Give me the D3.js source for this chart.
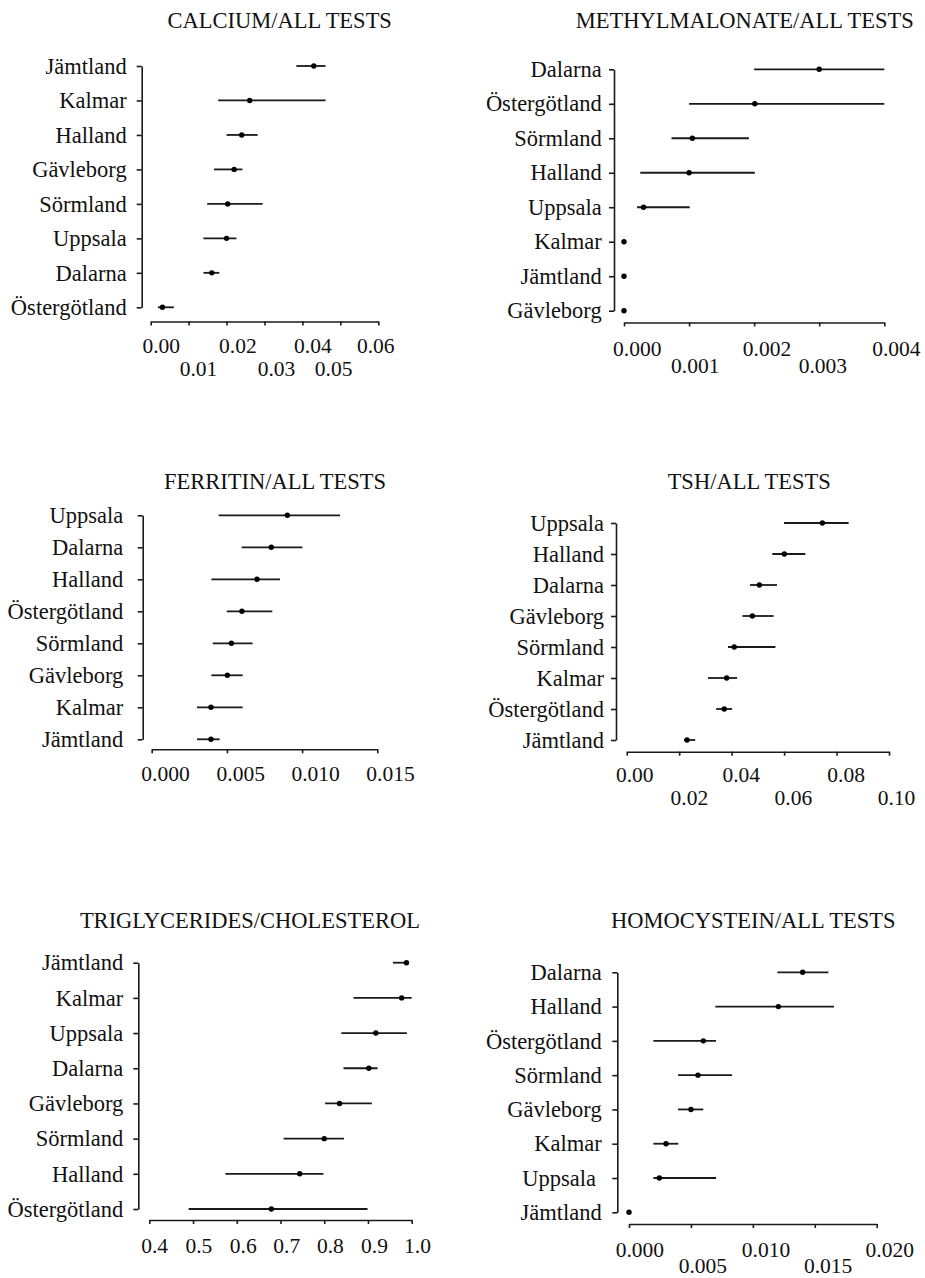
<!DOCTYPE html>
<html>
<head>
<meta charset="utf-8">
<script src="https://cdn.jsdelivr.net/npm/d3@7"></script>
<style>
  html, body { margin: 0; padding: 0; background: #fff; }
  svg, svg g, svg text { font-family: "Liberation Serif", "Times New Roman", Times, serif !important; }
  svg text { fill: #111; white-space: pre; }
</style>
</head>
<body>
<svg id="chart" width="925" height="1278" font-family="Liberation Serif, Times New Roman, serif"></svg>
<script>
// ---------------- DATA ----------------
// 1. Calcium / all tests
const calciumTitle = "CALCIUM/ALL TESTS";
const calciumRegions = ["Jämtland", "Kalmar", "Halland", "Gävleborg", "Sörmland", "Uppsala", "Dalarna", "Östergötland"];
const calciumEst   = [0.0430, 0.0261, 0.0240, 0.0220, 0.0203, 0.0200, 0.0161, 0.0031];
const calciumLower = [0.0384, 0.0178, 0.0200, 0.0167, 0.0149, 0.0139, 0.0139, 0.0019];
const calciumUpper = [0.0461, 0.0461, 0.0282, 0.0242, 0.0295, 0.0226, 0.0181, 0.0061];
const calciumTicks = [0, 0.01, 0.02, 0.03, 0.04, 0.05, 0.06];

// 2. Methylmalonate / all tests
const methylTitle = "METHYLMALONATE/ALL TESTS";
const methylRegions = ["Dalarna", "Östergötland", "Sörmland", "Halland", "Uppsala", "Kalmar", "Jämtland", "Gävleborg"];
const methylEst   = [0.00300, 0.00201, 0.00105, 0.00100, 0.00030, 0, 0, 0];
const methylLower = [0.00200, 0.00100, 0.00073, 0.00025, 0.00020, 0, 0, 0];
const methylUpper = [0.00400, 0.00400, 0.00192, 0.00201, 0.00101, 0, 0, 0];
const methylTicks = [0, 0.001, 0.002, 0.003, 0.004];

// 3. Ferritin / all tests
const ferritinTitle = "FERRITIN/ALL TESTS";
const ferritinRegions = ["Uppsala", "Dalarna", "Halland", "Östergötland", "Sörmland", "Gävleborg", "Kalmar", "Jämtland"];
const ferritinEst   = [0.00902, 0.00795, 0.00700, 0.00600, 0.00530, 0.00503, 0.00394, 0.00394];
const ferritinLower = [0.00445, 0.00598, 0.00397, 0.00499, 0.00406, 0.00397, 0.00301, 0.00301];
const ferritinUpper = [0.01252, 0.01002, 0.00853, 0.00802, 0.00671, 0.00605, 0.00605, 0.00452];
const ferritinTicks = [0, 0.005, 0.010, 0.015];

// 4. TSH / all tests
const tshTitle = "TSH/ALL TESTS";
const tshRegions = ["Uppsala", "Halland", "Dalarna", "Gävleborg", "Sörmland", "Kalmar", "Östergötland", "Jämtland"];
const tshEst   = [0.0746, 0.0601, 0.0506, 0.0479, 0.0410, 0.0381, 0.0372, 0.0230];
const tshLower = [0.0600, 0.0555, 0.0470, 0.0441, 0.0386, 0.0310, 0.0341, 0.0219];
const tshUpper = [0.0846, 0.0681, 0.0573, 0.0560, 0.0567, 0.0421, 0.0402, 0.0261];
const tshTicks = [0, 0.02, 0.04, 0.06, 0.08, 0.10];

// 5. Triglycerides / cholesterol
const trigTitle = "TRIGLYCERIDES/CHOLESTEROL";
const trigRegions = ["Jämtland", "Kalmar", "Uppsala", "Dalarna", "Gävleborg", "Sörmland", "Halland", "Östergötland"];
const trigEst   = [0.988, 0.977, 0.918, 0.902, 0.835, 0.800, 0.744, 0.679];
const trigLower = [0.957, 0.867, 0.839, 0.844, 0.802, 0.707, 0.574, 0.490];
const trigUpper = [0.990, 1.000, 0.989, 0.922, 0.909, 0.845, 0.798, 0.899];
const trigTicks = [0.4, 0.5, 0.6, 0.7, 0.8, 0.9, 1.0];

// 6. Homocystein / all tests
const homoTitle = "HOMOCYSTEIN/ALL TESTS";
const homoRegions = ["Dalarna", "Halland", "Östergötland", "Sörmland", "Gävleborg", "Kalmar", "Uppsala ", "Jämtland"];
const homoEst   = [0.01402, 0.01206, 0.00600, 0.00557, 0.00500, 0.00299, 0.00245, 0];
const homoLower = [0.01198, 0.00697, 0.00197, 0.00396, 0.00396, 0.00197, 0.00197, 0];
const homoUpper = [0.01610, 0.01655, 0.00703, 0.00832, 0.00600, 0.00398, 0.00703, 0];
const homoTicks = [0, 0.005, 0.010, 0.015, 0.020];

// ---------------- LAYOUT ----------------
const panels = [
  { title: calciumTitle, regions: calciumRegions, est: calciumEst, lo: calciumLower, hi: calciumUpper, ticks: calciumTicks, fmt: ".2f",
    axisX: 141.7, yTop: 66, yBot: 307.3, xAxisY: 321.5, xRange: [150.7, 378.3], titleX: 279.7, titleY: 28.3,
    rows: [23.5, 46.5], shifts: [10, 9.3, 10.8, 11.5, 10, -7.3, -3], labelPad: 10 },
  { title: methylTitle, regions: methylRegions, est: methylEst, lo: methylLower, hi: methylUpper, ticks: methylTicks, fmt: ".3f",
    axisX: 614, yTop: 69.3, yBot: 310.7, xAxisY: 322.5, xRange: [624, 884.3], titleX: 744.7, titleY: 28.3,
    rows: [26, 42.5], shifts: [12.7, 5.7, 12.4, 3.2, 11.6], labelPad: 7.3 },
  { title: ferritinTitle, regions: ferritinRegions, est: ferritinEst, lo: ferritinLower, hi: ferritinUpper, ticks: ferritinTicks, fmt: ".3f",
    axisX: 142.7, yTop: 515.3, yBot: 739.3, xAxisY: 749.3, xRange: [151.7, 377.3], titleX: 275, titleY: 489.3,
    rows: [24], shifts: [13.3, 13.3, 13, 12.7], labelPad: 14.4 },
  { title: tshTitle, regions: tshRegions, est: tshEst, lo: tshLower, hi: tshUpper, ticks: tshTicks, fmt: ".2f",
    axisX: 616, yTop: 523, yBot: 740, xAxisY: 751.7, xRange: [626.7, 889], titleX: 749.2, titleY: 489.3,
    rows: [22.5, 45.8], shifts: [7.5, 9.7, 9.1, 8.8, 9.1, 7], labelPad: 7 },
  { title: trigTitle, regions: trigRegions, est: trigEst, lo: trigLower, hi: trigUpper, ticks: trigTicks, fmt: ".1f",
    axisX: 138.3, yTop: 962.7, yBot: 1209, xAxisY: 1220, xRange: [149.3, 411.7], titleX: 250, titleY: 928.3,
    rows: [25.8], shifts: [4.8, 5.3, 6, 5.7, 5.7, 6, 5.3], labelPad: 10 },
  { title: homoTitle, regions: homoRegions, est: homoEst, lo: homoLower, hi: homoUpper, ticks: homoTicks, fmt: ".3f",
    axisX: 617.3, yTop: 972.3, yBot: 1212.3, xAxisY: 1224, xRange: [629, 876.7], titleX: 753.3, titleY: 928.3,
    rows: [25, 41], shifts: [10.3, 11.5, 12.7, 12.8, 12.5], labelPad: 10.6 }
];

const SERIF = "Liberation Serif, Times New Roman, serif";
const FONT = 22.5;
const TICKFONT = 21.5;
const INK = "#1a1a1a";
const svg = d3.select("#chart");

panels.forEach(p => {
  const g = svg.append("g");
  const x = d3.scaleLinear().domain(d3.extent(p.ticks)).range(p.xRange);
  const y = d3.scalePoint().domain(p.regions).range([p.yTop, p.yBot]).padding(0);

  // title
  g.append("text")
    .attr("x", p.titleX).attr("y", p.titleY)
    .attr("text-anchor", "middle")
    .attr("font-family", SERIF)
    .attr("font-size", FONT)
    .text(p.title);

  // y axis
  const yAxis = g.append("g")
    .attr("transform", `translate(${p.axisX},0)`)
    .call(d3.axisLeft(y).tickSize(5).tickSizeOuter(0).tickPadding(p.labelPad))
    .attr("font-family", SERIF)
    .attr("font-size", FONT);
  yAxis.select(".domain").attr("stroke", INK).attr("stroke-width", 1.6);
  yAxis.selectAll(".tick line").attr("stroke", INK).attr("stroke-width", 1.6);
  yAxis.selectAll(".tick text")
    .attr("font-family", SERIF)
    .attr("font-size", FONT)
    .attr("fill", "#111");

  // x axis
  const xAxis = g.append("g")
    .attr("transform", `translate(0,${p.xAxisY})`)
    .call(d3.axisBottom(x).tickValues(p.ticks).tickFormat(d3.format(p.fmt)).tickSize(4).tickSizeOuter(0))
    .attr("font-family", SERIF)
    .attr("font-size", TICKFONT);
  xAxis.select(".domain").attr("stroke", INK).attr("stroke-width", 1.6);
  xAxis.selectAll(".tick line").attr("stroke", INK).attr("stroke-width", 1.6);
  xAxis.selectAll(".tick text")
    .attr("font-family", SERIF)
    .attr("font-size", TICKFONT)
    .attr("fill", "#111")
    .attr("x", (d, i) => p.shifts[i] || 0)
    .attr("y", (d, i) => p.rows[i % p.rows.length])
    .attr("dy", "0.35em");

  // intervals
  const idx = d3.range(p.regions.length);
  g.append("g").selectAll("line")
    .data(idx.filter(i => p.hi[i] > p.lo[i]))
    .join("line")
    .attr("x1", i => x(p.lo[i]))
    .attr("x2", i => x(p.hi[i]))
    .attr("y1", i => y(p.regions[i]))
    .attr("y2", i => y(p.regions[i]))
    .attr("stroke", INK)
    .attr("stroke-width", 1.8);

  // points
  g.append("g").selectAll("circle")
    .data(idx)
    .join("circle")
    .attr("cx", i => x(p.est[i]))
    .attr("cy", i => y(p.regions[i]))
    .attr("r", 2.7)
    .attr("fill", "#000");
});
</script>
</body>
</html>
